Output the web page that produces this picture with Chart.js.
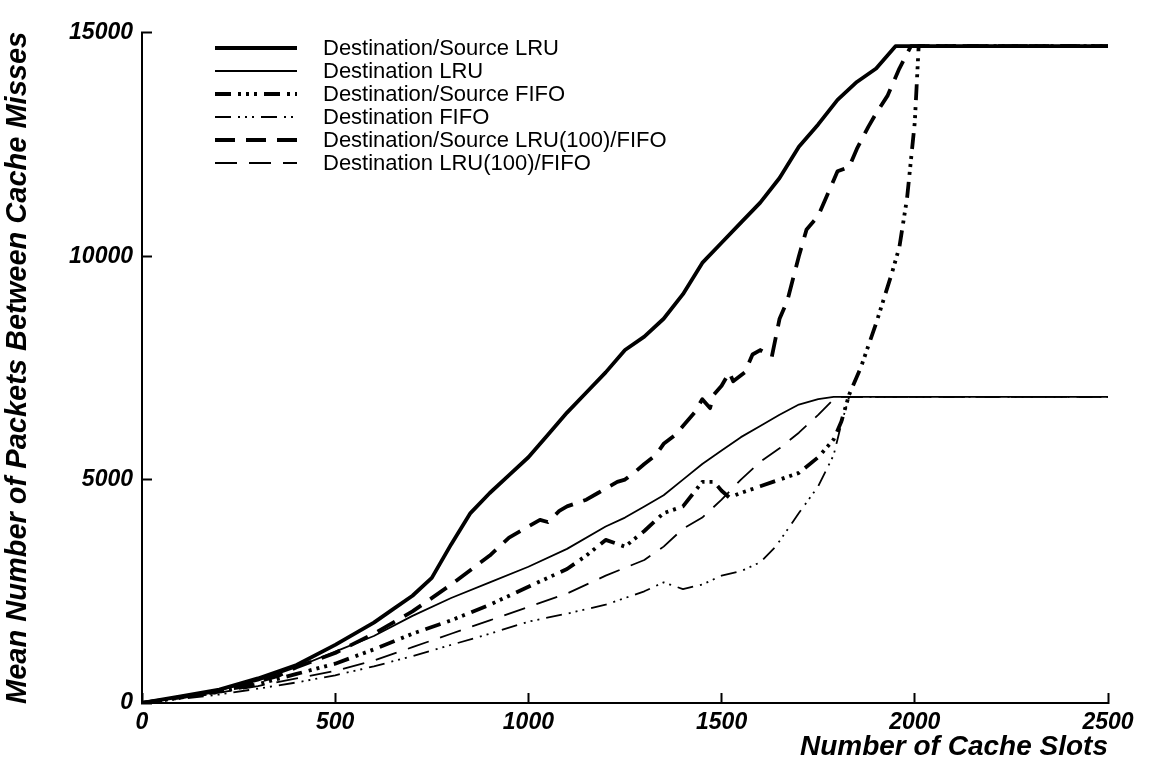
<!DOCTYPE html>
<html>
<head>
    <title>Cache Misses vs Cache Slots</title>
    <script src="https://cdn.jsdelivr.net/npm/chart.js"></script>
    <style>
        html, body { margin: 0; padding: 0; background: #fff; }
        .wrap { width: 1150px; height: 770px; position: relative; }
    </style>
</head>
<body>
<div class="wrap">
    <canvas id="cacheChart" width="1150" height="770"></canvas>
</div>
<script>
// tick values
const xTicks = [0, 500, 1000, 1500, 2000, 2500];
const yTicks = [0, 5000, 10000, 15000];

// Destination/Source LRU
const dsLruX = [0, 100, 200, 300, 400, 500, 600, 650, 700, 750, 800, 850, 900, 950, 1000, 1050, 1100, 1150, 1200, 1250, 1300, 1350, 1400, 1450, 1500, 1550, 1600, 1650, 1700, 1750, 1800, 1850, 1900, 1950, 2500];
const dsLruY = [0, 150, 300, 550, 850, 1300, 1800, 2100, 2400, 2800, 3550, 4250, 4700, 5100, 5500, 6000, 6500, 6950, 7400, 7900, 8200, 8600, 9150, 9850, 10300, 10750, 11200, 11750, 12450, 12950, 13500, 13900, 14200, 14700, 14700];

// Destination LRU
const dLruX = [0, 100, 200, 300, 400, 500, 600, 700, 800, 900, 1000, 1100, 1200, 1250, 1300, 1350, 1400, 1450, 1500, 1550, 1600, 1650, 1700, 1750, 1790, 2500];
const dLruY = [0, 140, 290, 500, 800, 1150, 1500, 1950, 2350, 2700, 3050, 3450, 3950, 4150, 4400, 4650, 5000, 5350, 5650, 5950, 6200, 6450, 6680, 6800, 6850, 6850];

// Destination/Source FIFO
const dsFifoX = [0, 100, 200, 300, 400, 500, 600, 700, 800, 900, 1000, 1100, 1150, 1200, 1250, 1300, 1350, 1400, 1450, 1480, 1500, 1520, 1550, 1600, 1650, 1700, 1750, 1790, 1810, 1830, 1860, 1900, 1940, 1960, 1980, 2000, 2010, 2500];
const dsFifoY = [0, 120, 250, 420, 650, 880, 1200, 1550, 1850, 2200, 2600, 3000, 3300, 3650, 3500, 3850, 4250, 4400, 4950, 4950, 4750, 4600, 4700, 4850, 5000, 5150, 5500, 5900, 6300, 6900, 7500, 8500, 9600, 10200, 11300, 13000, 14700, 14700];

// Destination FIFO
const dFifoX = [0, 100, 200, 300, 400, 500, 600, 700, 800, 900, 1000, 1100, 1200, 1300, 1350, 1400, 1450, 1500, 1550, 1600, 1640, 1700, 1750, 1790, 1810, 1830, 2500];
const dFifoY = [0, 90, 190, 320, 460, 620, 820, 1050, 1300, 1550, 1820, 2000, 2200, 2500, 2700, 2550, 2650, 2850, 2950, 3150, 3500, 4250, 4850, 5550, 6250, 6850, 6850];

// Destination/Source LRU(100)/FIFO (noisy curve)
const dsMixX = [0, 100, 200, 250, 300, 350, 400, 500, 600, 700, 800, 900, 950, 1000, 1030, 1050, 1080, 1100, 1150, 1180, 1200, 1230, 1250, 1280, 1300, 1330, 1350, 1380, 1400, 1430, 1450, 1470, 1480, 1500, 1520, 1530, 1560, 1580, 1600, 1630, 1650, 1670, 1700, 1720, 1750, 1780, 1800, 1830, 1850, 1880, 1900, 1930, 1960, 1990, 2500];
const dsMixY = [0, 130, 280, 350, 480, 600, 800, 1120, 1550, 2050, 2650, 3300, 3700, 3950, 4100, 4050, 4300, 4400, 4550, 4700, 4800, 4950, 5000, 5200, 5350, 5550, 5800, 6000, 6200, 6500, 6800, 6600, 6900, 7100, 7400, 7200, 7400, 7800, 7900, 7750, 8600, 9000, 10000, 10600, 10900, 11500, 11900, 12000, 12400, 12900, 13200, 13600, 14200, 14700, 14700];

// Destination LRU(100)/FIFO
const dMixX = [0, 100, 200, 300, 400, 500, 600, 700, 800, 900, 1000, 1100, 1200, 1300, 1350, 1400, 1450, 1500, 1550, 1600, 1650, 1700, 1750, 1790, 1800, 2500];
const dMixY = [0, 110, 230, 380, 550, 720, 950, 1250, 1550, 1850, 2150, 2450, 2850, 3200, 3500, 3900, 4150, 4550, 5000, 5400, 5700, 6050, 6450, 6800, 6850, 6850];

const seriesNames = [
    'Destination/Source LRU',
    'Destination LRU',
    'Destination/Source FIFO',
    'Destination FIFO',
    'Destination/Source LRU(100)/FIFO',
    'Destination LRU(100)/FIFO'
];

const toPoints = (xs, ys) => xs.map((x, i) => ({ x: x, y: ys[i] }));

const THICK = 3.8;
const THIN = 1.8;

function lineSet(label, xs, ys, width, dash) {
    return {
        label: label,
        data: toPoints(xs, ys),
        borderColor: '#000',
        borderWidth: width,
        borderDash: dash,
        borderCapStyle: 'butt',
        borderJoinStyle: 'round',
        pointRadius: 0,
        tension: 0,
        fill: false
    };
}

// legend drawn inside the plot, top left
const innerLegend = {
    id: 'innerLegend',
    afterDatasetsDraw(chart) {
        const ctx = chart.ctx;
        ctx.save();
        chart.data.datasets.forEach((ds, i) => {
            const y = 48 + i * 23;
            ctx.beginPath();
            ctx.lineWidth = ds.borderWidth;
            ctx.strokeStyle = '#000';
            ctx.setLineDash(ds.borderDash || []);
            ctx.moveTo(215, y);
            ctx.lineTo(297, y);
            ctx.stroke();
            ctx.setLineDash([]);
            ctx.fillStyle = '#000';
            ctx.font = '22px "Liberation Sans", Arial, sans-serif';
            ctx.textBaseline = 'middle';
            ctx.textAlign = 'left';
            ctx.fillText(ds.label, 323, y + 1);
        });
        ctx.restore();
    }
};

const tickFont = { family: '"Liberation Sans", Arial, sans-serif', size: 23, weight: 'bold', style: 'italic' };
const titleFont = { family: '"Liberation Sans", Arial, sans-serif', size: 28, weight: 'bold', style: 'italic' };
const yTitleFont = { family: '"Liberation Sans", Arial, sans-serif', size: 29, weight: 'bold', style: 'italic' };

const config = {
    type: 'line',
    data: {
        datasets: [
            lineSet(seriesNames[0], dsLruX, dsLruY, THICK, []),
            lineSet(seriesNames[1], dLruX, dLruY, THIN, []),
            lineSet(seriesNames[2], dsFifoX, dsFifoY, THICK, [16, 7, 3, 5, 3, 5, 3, 7]),
            lineSet(seriesNames[3], dFifoX, dFifoY, THIN, [16, 7, 2, 5, 2, 5, 2, 7]),
            lineSet(seriesNames[4], dsMixX, dsMixY, THICK, [20, 11]),
            lineSet(seriesNames[5], dMixX, dMixY, THIN, [22, 12])
        ]
    },
    options: {
        responsive: false,
        animation: false,
        layout: { padding: { top: 28, right: 42, left: 0, bottom: 0 } },
        plugins: {
            legend: { display: false },
            tooltip: { enabled: false }
        },
        scales: {
            x: {
                type: 'linear',
                min: 0,
                max: 2500,
                afterBuildTicks: s => { s.ticks = xTicks.map(v => ({ value: v })); },
                afterFit: s => { s.height = 67; },
                grid: { drawOnChartArea: false, drawTicks: true, tickLength: -10, tickColor: '#000', tickWidth: 2 },
                border: { display: true, color: '#000', width: 2 },
                ticks: { color: '#000', font: tickFont, padding: 16, maxRotation: 0, callback: v => String(v) },
                title: { display: true, text: 'Number of Cache Slots', align: 'end', color: '#000', font: titleFont, padding: { top: 0, bottom: 6 } }
            },
            y: {
                type: 'linear',
                min: 0,
                max: 15000,
                afterBuildTicks: s => { s.ticks = yTicks.map(v => ({ value: v })); },
                afterFit: s => { s.width = 142; },
                grid: { drawOnChartArea: false, drawTicks: true, tickLength: -10, tickColor: '#000', tickWidth: 2 },
                border: { display: true, color: '#000', width: 2 },
                ticks: { color: '#000', font: tickFont, padding: 19, callback: v => String(v) },
                title: { display: true, text: 'Mean Number of Packets Between Cache Misses', color: '#000', font: yTitleFont, padding: { top: 1, bottom: 0 } }
            }
        }
    },
    plugins: [innerLegend]
};

window.onload = () => {
    new Chart(document.getElementById('cacheChart'), config);
};
</script>
</body>
</html>
